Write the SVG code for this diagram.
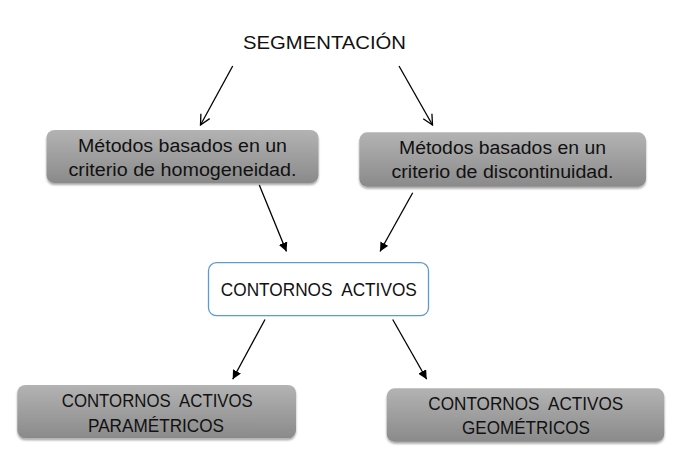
<svg xmlns="http://www.w3.org/2000/svg" width="692" height="463" viewBox="0 0 692 463">
<style>
text{font-family:"Liberation Sans",Arial,sans-serif;fill:#111;text-anchor:middle}
.lbl{font-size:18.5px}
.cap{font-size:18px}
.gray{fill:url(#g);filter:url(#sh)}
.edge{stroke:#000;stroke-width:1.3;fill:none}
</style>
<defs>
<linearGradient id="g" x1="0" y1="0" x2="0" y2="1">
<stop offset="0" stop-color="#b3b3b3"/>
<stop offset="1" stop-color="#8a8a8a"/>
</linearGradient>
<filter id="sh" x="-5%" y="-10%" width="110%" height="125%">
<feGaussianBlur in="SourceAlpha" stdDeviation="1.2"/>
<feOffset dy="1.5"/>
<feComponentTransfer><feFuncA type="linear" slope="0.35"/></feComponentTransfer>
<feMerge><feMergeNode/><feMergeNode in="SourceGraphic"/></feMerge>
</filter>
<marker id="open" viewBox="0 0 12 12" refX="11" refY="6" markerWidth="12" markerHeight="12" markerUnits="userSpaceOnUse" orient="auto">
<path d="M1,1 L11,6 L1,11" fill="none" stroke="#000" stroke-width="1.3"/>
</marker>
<marker id="fill" viewBox="0 0 10 10" refX="10" refY="5" markerWidth="9" markerHeight="9" markerUnits="userSpaceOnUse" orient="auto">
<path d="M0,0 L10,5 L0,10 Z" fill="#000"/>
</marker>
</defs>

<g id="connectors">
<line class="edge" x1="232.7" y1="66" x2="200.5" y2="125" marker-end="url(#open)"/>
<line class="edge" x1="399" y1="66" x2="432.5" y2="125" marker-end="url(#open)"/>
<line class="edge" x1="259.3" y1="185" x2="286.5" y2="251.5" marker-end="url(#fill)"/>
<line class="edge" x1="412.7" y1="192.7" x2="380" y2="251.5" marker-end="url(#fill)"/>
<line class="edge" x1="265" y1="319.5" x2="232.7" y2="379.3" marker-end="url(#fill)"/>
<line class="edge" x1="392.7" y1="319.5" x2="426.7" y2="379.3" marker-end="url(#fill)"/>
</g>

<g id="segmentacion">
<text class="lbl" x="324.5" y="48.5" textLength="163" lengthAdjust="spacingAndGlyphs">SEGMENTACIÓN</text>
</g>

<g id="homogeneidad">
<rect class="gray" x="46.5" y="130" width="272" height="53" rx="8"/>
<text class="cap" x="182.5" y="152.3" textLength="209" lengthAdjust="spacingAndGlyphs">Métodos basados en un</text>
<text class="cap" x="182.5" y="175.5" textLength="228" lengthAdjust="spacingAndGlyphs">criterio de homogeneidad.</text>
</g>

<g id="discontinuidad">
<rect class="gray" x="359.3" y="132.3" width="286.7" height="54.4" rx="8"/>
<text class="cap" x="502.5" y="154.3" textLength="207" lengthAdjust="spacingAndGlyphs">Métodos basados en un</text>
<text class="cap" x="502.5" y="178.3" textLength="222" lengthAdjust="spacingAndGlyphs">criterio de discontinuidad.</text>
</g>

<g id="contornos">
<rect x="208.5" y="262.7" width="220" height="53" rx="8" fill="#fff" stroke="#5b9bd5" stroke-width="1.3"/>
<text class="lbl" x="318.8" y="295.7" textLength="196" lengthAdjust="spacingAndGlyphs">CONTORNOS&#160; ACTIVOS</text>
</g>

<g id="parametricos">
<rect class="gray" x="17.3" y="385" width="278.7" height="53.3" rx="8"/>
<text class="lbl" x="157.3" y="407.3" textLength="191" lengthAdjust="spacingAndGlyphs">CONTORNOS&#160; ACTIVOS</text>
<text class="lbl" x="156" y="431.7" textLength="136" lengthAdjust="spacingAndGlyphs">PARAMÉTRICOS</text>
</g>

<g id="geometricos">
<rect class="gray" x="386.7" y="388.3" width="277.6" height="53.4" rx="8"/>
<text class="lbl" x="525.8" y="410" textLength="195" lengthAdjust="spacingAndGlyphs">CONTORNOS&#160; ACTIVOS</text>
<text class="lbl" x="526" y="434" textLength="128" lengthAdjust="spacingAndGlyphs">GEOMÉTRICOS</text>
</g>
</svg>
